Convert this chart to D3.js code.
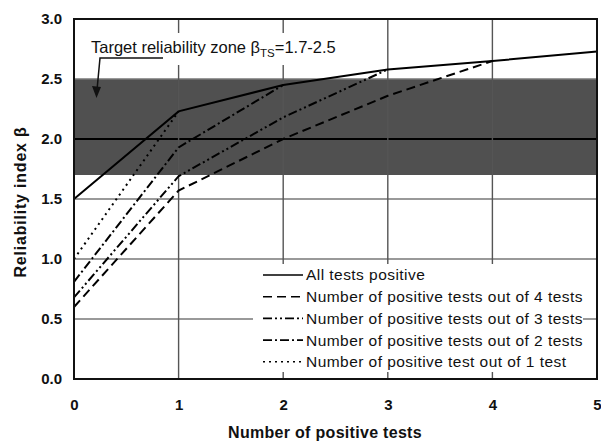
<!DOCTYPE html>
<html>
<head>
<meta charset="utf-8">
<script src="https://cdn.jsdelivr.net/npm/d3@7"></script>
<style>
  body { margin: 0; background: #fff; }
  text { font-family: "Liberation Sans", Arial, sans-serif; fill: #111; }
</style>
</head>
<body>
<script>
const w = 601;
const h = 441;
const margin = { top: 19, right: 4, bottom: 62, left: 74 };

// data
const xValues = [0, 1, 2, 3, 4, 5];
const allPositive = [1.5, 2.23, 2.45, 2.58, 2.65, 2.73];
const outOf4 = [0.6, 1.57, 2.0, 2.36, 2.65];
const outOf3 = [0.68, 1.69, 2.18, 2.58];
const outOf2 = [0.81, 1.93, 2.45];
const outOf1 = [1.0, 2.23];
const targetZone = [1.7, 2.5];
const yTicks = [0, 0.5, 1.0, 1.5, 2.0, 2.5, 3.0];
const xTicks = [0, 1, 2, 3, 4, 5];
const seriesNames = [
  "All tests positive",
  "Number of positive tests out of 4 tests",
  "Number of positive tests out of 3 tests",
  "Number of positive tests out of 2 tests",
  "Number of positive test out of 1 test",
];

const series = [
  { name: seriesNames[0], values: allPositive, dash: null },
  { name: seriesNames[1], values: outOf4, dash: "9,5" },
  { name: seriesNames[2], values: outOf3, dash: "9,3,2,3,2,3" },
  { name: seriesNames[3], values: outOf2, dash: "9,3,2,3" },
  { name: seriesNames[4], values: outOf1, dash: "2,4" },
];

const svg = d3.select("body").append("svg").attr("width", w).attr("height", h);

const x = d3.scaleLinear().domain([0, 5]).range([margin.left, w - margin.right]);
const y = d3.scaleLinear().domain([0, 3]).range([h - margin.bottom, margin.top]);

/* target zone band */
svg.append("rect")
  .attr("x", x(0))
  .attr("y", y(targetZone[1]))
  .attr("width", x(5) - x(0))
  .attr("height", y(targetZone[0]) - y(targetZone[1]))
  .attr("fill", "#505050");

/* grid */
svg.append("g")
  .selectAll("line")
  .data(yTicks)
  .enter()
  .append("line")
  .attr("x1", x(0))
  .attr("x2", x(5))
  .attr("y1", (d) => y(d))
  .attr("y2", (d) => y(d))
  .attr("stroke", (d) => (d === 2.0 ? "#000" : "#777"))
  .attr("stroke-width", (d) => (d === 2.0 ? 2.2 : 1.4));

svg.append("g")
  .selectAll("line")
  .data(xTicks)
  .enter()
  .append("line")
  .attr("x1", (d) => x(d))
  .attr("x2", (d) => x(d))
  .attr("y1", y(0))
  .attr("y2", y(3))
  .attr("stroke", "#555")
  .attr("stroke-width", 1.4);

/* annotation text box (white behind the text) */
const note = svg.append("g");
note.append("rect")
  .attr("x", 86)
  .attr("y", 33)
  .attr("width", 256)
  .attr("height", 32)
  .attr("fill", "#fff");
const noteText = note.append("text")
  .attr("x", 91)
  .attr("y", 53)
  .style("font-size", "16.5px");
noteText.append("tspan").text("Target reliability zone \u03b2");
noteText.append("tspan").attr("dy", 4).style("font-size", "11.5px").text("TS");
noteText.append("tspan").attr("dy", -4).text("=1.7-2.5");

svg.append("path")
  .attr("d", "M163,58 L100,58 L97,90")
  .attr("fill", "none")
  .attr("stroke", "#111")
  .attr("stroke-width", 1.5);
svg.append("path")
  .attr("d", "M92,86 L96.5,98 L101,87 Z")
  .attr("fill", "#111");

/* lines */
const line = d3.line()
  .x((d, i) => x(xValues[i]))
  .y((d) => y(d));

svg.append("g")
  .selectAll("path")
  .data(series)
  .enter()
  .append("path")
  .attr("d", (d) => line(d.values))
  .attr("fill", "none")
  .attr("stroke", "#000")
  .attr("stroke-width", 2)
  .attr("stroke-dasharray", (d) => d.dash);

/* legend */
const legend = svg.append("g");
legend.append("rect")
  .attr("x", 253)
  .attr("y", 264)
  .attr("width", 330)
  .attr("height", 108)
  .attr("fill", "#fff");

const rows = legend.selectAll("g")
  .data(series)
  .enter()
  .append("g")
  .attr("transform", (d, i) => `translate(263, ${275 + i * 21.7})`);
rows.append("line")
  .attr("x1", 0)
  .attr("x2", 40)
  .attr("stroke", "#000")
  .attr("stroke-width", 1.6)
  .attr("stroke-dasharray", (d) => d.dash);
rows.append("text")
  .attr("x", 43)
  .attr("dy", "0.35em")
  .style("font-size", "15.5px")
  .style("letter-spacing", "0.45px")
  .text((d) => d.name);

/* frame */
svg.append("rect")
  .attr("x", x(0))
  .attr("y", y(3))
  .attr("width", x(5) - x(0))
  .attr("height", y(0) - y(3))
  .attr("fill", "none")
  .attr("stroke", "#111")
  .attr("stroke-width", 2);

/* axes labels */
const yAxis = d3.axisLeft(y).tickValues(yTicks).tickFormat(d3.format(".1f")).tickSize(0).tickPadding(12);
const gy = svg.append("g").attr("transform", `translate(${x(0)},0)`).call(yAxis);
gy.select(".domain").remove();
gy.selectAll("text").style("font-size", "15px").style("font-weight", "bold").attr("font-family", null);

const xAxis = d3.axisBottom(x).tickValues(xTicks).tickFormat(d3.format("d")).tickSize(0).tickPadding(20);
const gx = svg.append("g").attr("transform", `translate(0,${y(0)})`).call(xAxis);
gx.select(".domain").remove();
gx.selectAll("text").style("font-size", "15px").style("font-weight", "bold").attr("font-family", null);

svg.append("text")
  .attr("x", 325)
  .attr("y", 438)
  .attr("text-anchor", "middle")
  .style("font-size", "16px")
  .style("font-weight", "bold")
  .style("letter-spacing", "0.3px")
  .text("Number of positive tests");

svg.append("text")
  .attr("transform", `translate(26, 202) rotate(-90)`)
  .attr("text-anchor", "middle")
  .style("font-size", "16px")
  .style("font-weight", "bold")
  .style("letter-spacing", "0.8px")
  .text("Reliability index \u03b2");
</script>
</body>
</html>
